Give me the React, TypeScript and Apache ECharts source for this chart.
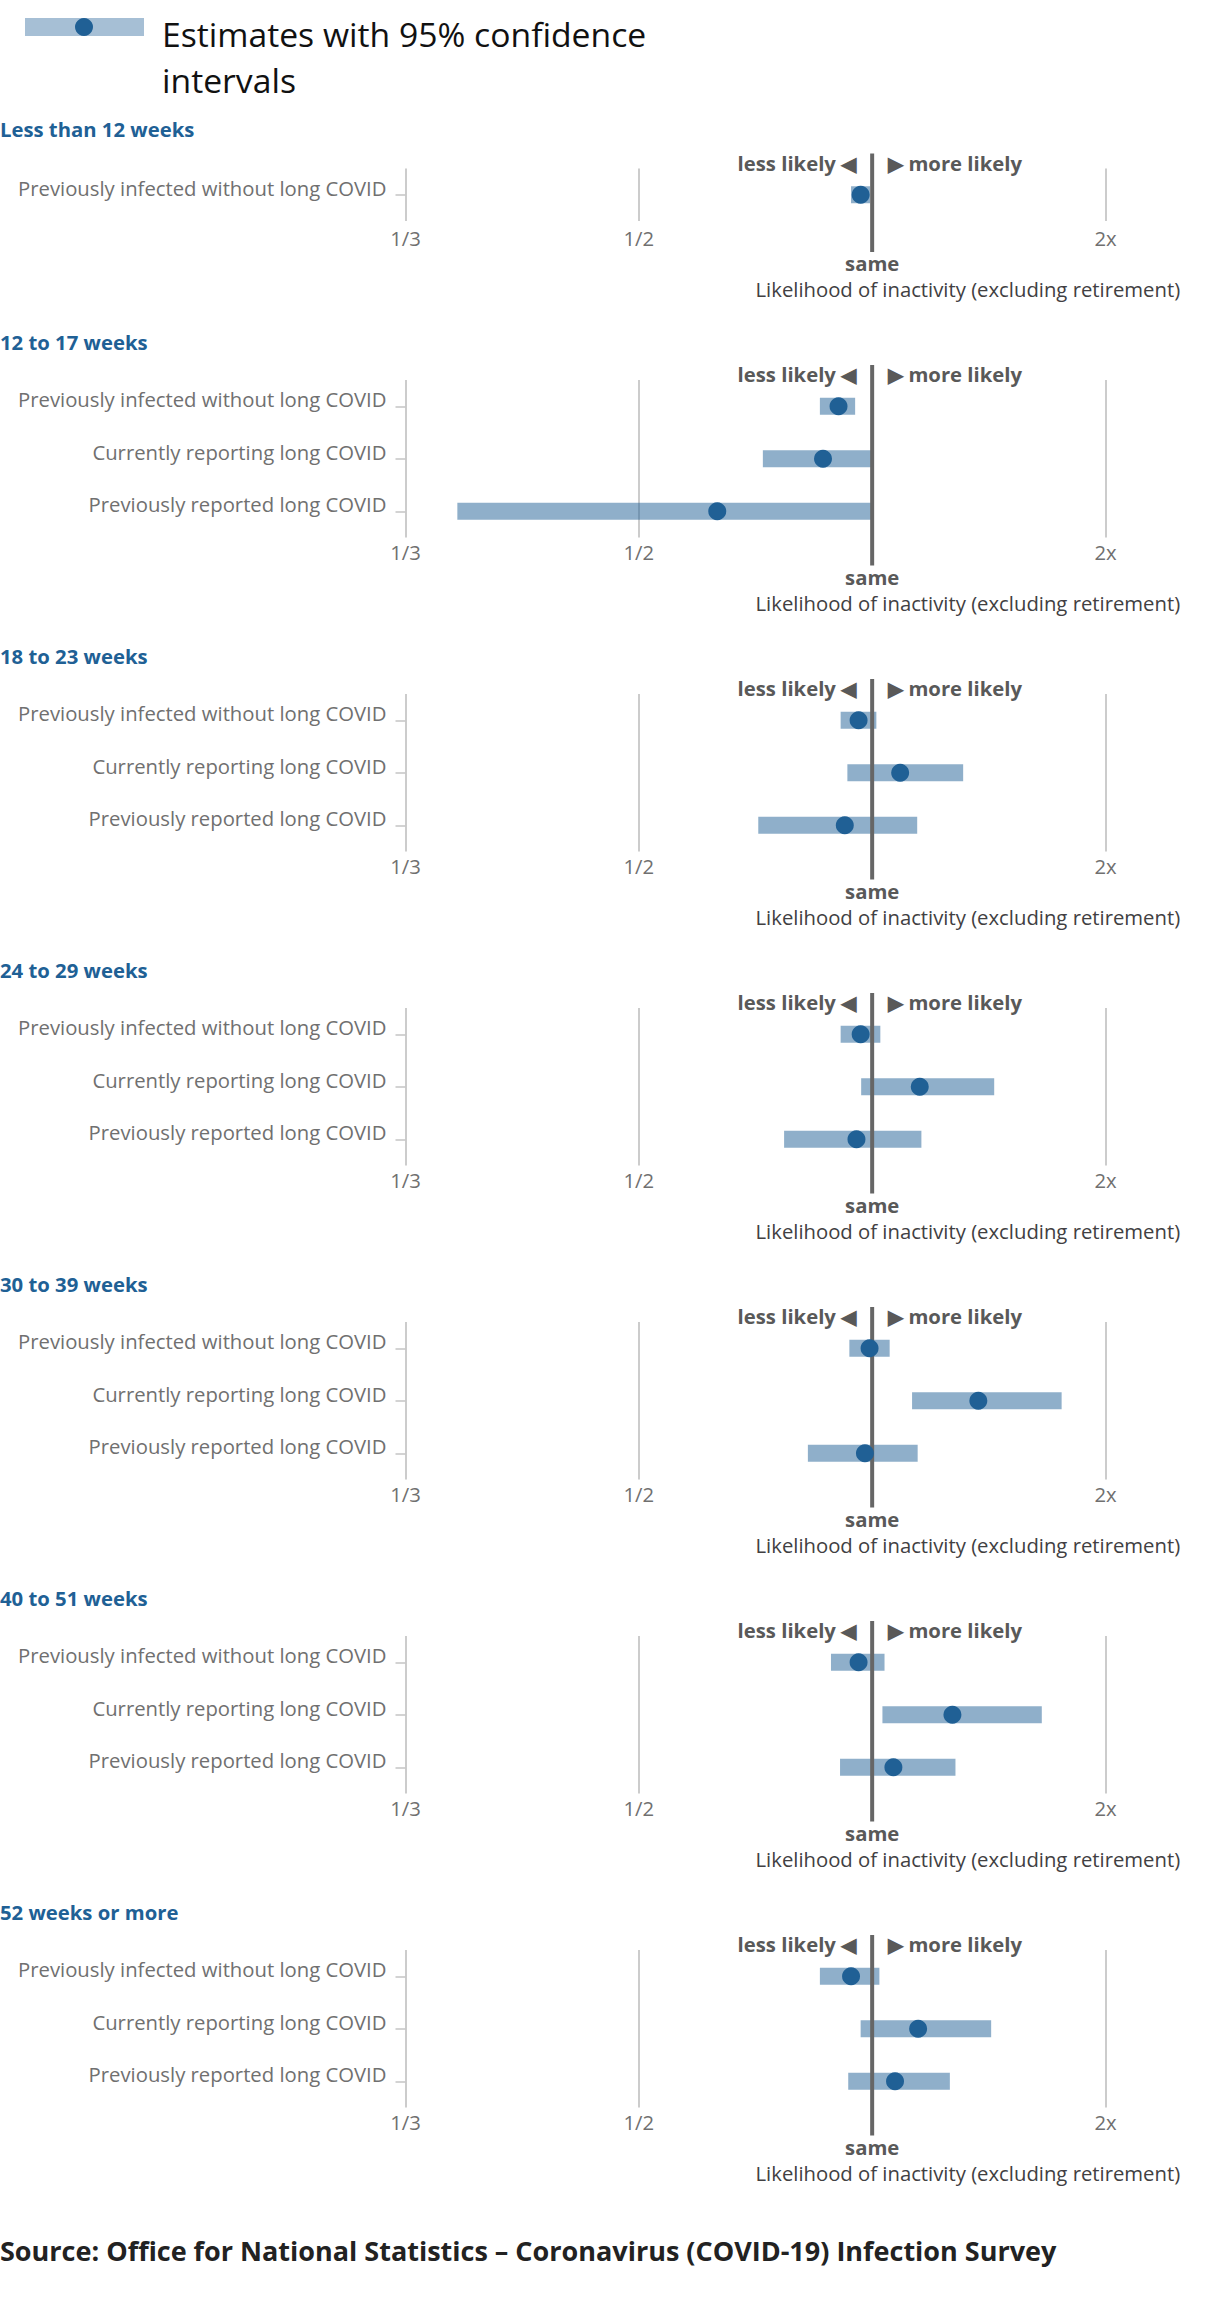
import React, { useEffect, useRef } from "react";
import * as echarts from "echarts";

// ---------- data ----------
const panelTitles = [
  "Less than 12 weeks",
  "12 to 17 weeks",
  "18 to 23 weeks",
  "24 to 29 weeks",
  "30 to 39 weeks",
  "40 to 51 weeks",
  "52 weeks or more",
];
const groups = [
  "Previously infected without long COVID",
  "Currently reporting long COVID",
  "Previously reported long COVID",
];
const panelGroupCount = [1, 3, 3, 3, 3, 3, 3];
// odds-ratio style estimates (1 = same likelihood)
const estimates = [
  [0.953],
  [0.874, 0.826, 0.601],
  [0.945, 1.12, 0.895],
  [0.953, 1.204, 0.937],
  [0.989, 1.455, 0.97],
  [0.945, 1.344, 1.091],
  [0.917, 1.197, 1.098],
];
const lowerBounds = [
  [0.917],
  [0.817, 0.681, 0.36],
  [0.881, 0.904, 0.672],
  [0.881, 0.955, 0.726],
  [0.911, 1.171, 0.784],
  [0.85, 1.044, 0.879],
  [0.817, 0.953, 0.907],
];
const upperBounds = [
  [0.991],
  [0.932, 1.0, 1.0],
  [1.018, 1.39, 1.193],
  [1.035, 1.523, 1.211],
  [1.075, 1.812, 1.195],
  [1.053, 1.727, 1.357],
  [1.031, 1.51, 1.333],
];
const tickRatios = [1 / 3, 1 / 2, 1, 2];
const tickLabels = ["1/3", "1/2", "", "2x"];
const sameLabel = "same";
const lessLabel = "less likely ◀";
const moreLabel = "▶ more likely";
const axisTitle = "Likelihood of inactivity (excluding retirement)";
const legendText = "Estimates with 95% confidence\nintervals";
const sourceText =
  "Source: Office for National Statistics – Coronavirus (COVID-19) Infection Survey";

// symmetric ratio scale: 2x -> +1, 1/2 -> -1, 1/3 -> -2
const toScale = (r: number) => (r >= 1 ? r - 1 : 1 - 1 / r);

// ---------- layout ----------
const FONT = "'Open Sans', 'Noto Sans', sans-serif";
const GRID_LEFT = 405.5;
const UNIT = 233.33;
const X_MIN = -2;
const X_MAX = 1.32;
const ROW_H = 52.5;
const BLUE = "#206095";
const titleY = (i: number) => (i === 0 ? 129 : 341.5 + (i - 1) * 314);
const gridTop = (i: number) => (i === 0 ? 168.5 : titleY(i) + 38.5);

export default function App() {
  const ref = useRef<HTMLDivElement>(null);

  useEffect(() => {
    document.body.style.margin = "0";
    if (!ref.current) return;
    const chart = echarts.init(ref.current, undefined, { renderer: "svg" });

    const grids: any[] = [];
    const xAxes: any[] = [];
    const yAxes: any[] = [];
    const series: any[] = [];

    panelTitles.forEach((_, i) => {
      const n = panelGroupCount[i];
      const cats = groups.slice(0, n);
      grids.push({
        left: GRID_LEFT,
        top: gridTop(i),
        width: UNIT * (X_MAX - X_MIN),
        height: n * ROW_H,
      });
      xAxes.push({
        type: "value",
        gridIndex: i,
        min: X_MIN,
        max: X_MAX,
        interval: 1,
        axisLine: { show: false },
        axisTick: { show: false },
        splitLine: {
          show: true,
          showMaxLine: false,
          lineStyle: { color: "#cccccc", width: 2 },
        },
        axisLabel: {
          showMinLabel: true,
          showMaxLabel: false,
          margin: n === 1 ? 7 : 4,
          fontSize: 20.3,
          fontFamily: FONT,
          color: "#707070",
          formatter: (v: number) => {
            const k = tickRatios.findIndex((r) => Math.abs(toScale(r) - v) < 1e-6);
            return k >= 0 ? tickLabels[k] : "";
          },
        },
      });
      yAxes.push({
        type: "category",
        gridIndex: i,
        inverse: true,
        data: cats,
        axisLine: { show: false, onZero: false },
        axisTick: {
          show: true,
          alignWithLabel: true,
          length: 10,
          lineStyle: { color: "#c4c4c4", width: 1.5 },
        },
        axisLabel: {
          margin: 19,
          fontSize: 20.3,
          fontFamily: FONT,
          color: "#707070",
          verticalAlign: "bottom",
          lineHeight: 14,
        },
      });
      series.push({
        type: "custom",
        xAxisIndex: i,
        yAxisIndex: i,
        z: 2,
        encode: { x: [0, 1], y: 2 },
        data: cats.map((_, j) => [
          toScale(lowerBounds[i][j]),
          toScale(upperBounds[i][j]),
          j,
        ]),
        renderItem: (_p: any, api: any) => {
          const lo = api.coord([api.value(0), api.value(2)]);
          const hi = api.coord([api.value(1), api.value(2)]);
          const h = 17;
          return {
            type: "rect",
            shape: { x: lo[0], y: lo[1] - h / 2, width: hi[0] - lo[0], height: h },
            style: { fill: "rgba(32,96,149,0.5)" },
          };
        },
      });
      series.push({
        type: "scatter",
        xAxisIndex: i,
        yAxisIndex: i,
        z: 4,
        symbol: "circle",
        symbolSize: 18,
        itemStyle: { color: BLUE, opacity: 1 },
        data: cats.map((_, j) => [toScale(estimates[i][j]), j]),
      });
    });

    chart.setOption({
      animation: false,
      grid: grids,
      xAxis: xAxes,
      yAxis: yAxes,
      series,
    });

    const txt = (
      x: number,
      y: number,
      text: string,
      o: { size?: number; weight?: string; color?: string; align?: string; va?: string; lh?: number }
    ) => ({
      type: "text",
      x,
      y,
      z: 5,
      style: {
        text,
        fontSize: o.size ?? 20.3,
        fontWeight: o.weight ?? "normal",
        fontFamily: FONT,
        fill: o.color ?? "#707070",
        align: o.align ?? "left",
        textAlign: o.align ?? "left",
        verticalAlign: o.va ?? "middle",
        textVerticalAlign: o.va ?? "middle",
        lineHeight: o.lh,
      },
    });

    const g: any[] = [];
    // legend
    g.push({
      type: "rect",
      shape: { x: 25, y: 18, width: 119, height: 18 },
      style: { fill: "rgba(32,96,149,0.4)" },
    });
    g.push({ type: "circle", shape: { cx: 84, cy: 27, r: 9 }, style: { fill: BLUE } });
    g.push(txt(162, 11, legendText, { size: 33.7, color: "#111111", va: "top", lh: 46 }));

    panelTitles.forEach((t, i) => {
      const n = panelGroupCount[i];
      const top = gridTop(i);
      const bottom = top + n * ROW_H;
      const adj = n === 1 ? 0 : -3;
      const x0 = chart.convertToPixel({ xAxisIndex: i }, toScale(1)) as number;
      const xr = chart.convertToPixel({ xAxisIndex: i }, X_MAX) as number;
      g.push(txt(0, titleY(i), t, { weight: "bold", color: BLUE }));
      g.push({
        type: "line",
        z: 3,
        shape: { x1: x0, y1: top - 15, x2: x0, y2: bottom + 31 + adj },
        style: { stroke: "#666666", lineWidth: 4 },
      });
      g.push(txt(x0 - 16, top - 6, lessLabel, { weight: "bold", color: "#595959", align: "right" }));
      g.push(txt(x0 + 16, top - 6, moreLabel, { weight: "bold", color: "#595959" }));
      g.push(txt(x0, bottom + 42 + adj, sameLabel, { weight: "bold", color: "#595959", align: "center" }));
      g.push(txt(xr, bottom + 68 + adj, axisTitle, { color: "#414042", align: "right" }));
    });

    g.push(txt(0, 2250, sourceText, { size: 27, weight: "bold", color: "#222222" }));

    chart.setOption({ graphic: g });

    return () => chart.dispose();
  }, []);

  return <div ref={ref} style={{ width: 1219, height: 2317 }} />;
}
